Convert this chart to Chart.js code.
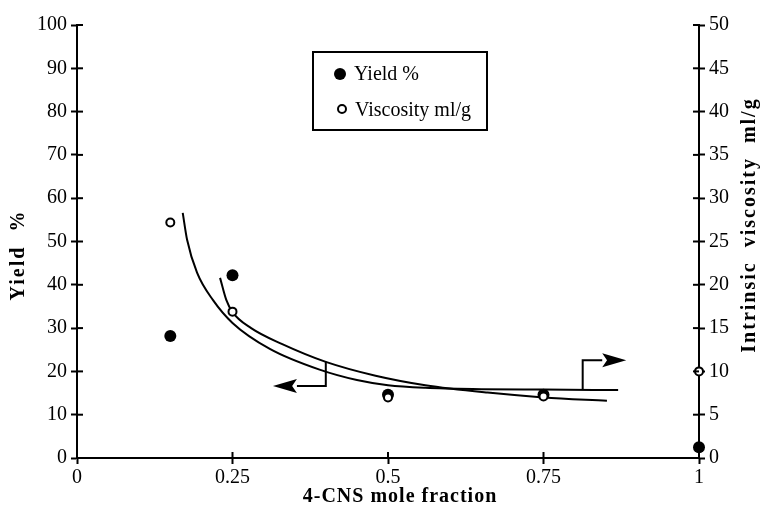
<!DOCTYPE html>
<html>
<head>
<meta charset="utf-8">
<script src="https://cdn.jsdelivr.net/npm/chart.js@4"></script>
<style>
html,body{margin:0;padding:0;background:#fff;}
#wrap{width:767px;height:512px;}
</style>
</head>
<body>
<div id="wrap"><canvas id="grafico" width="767" height="512"></canvas></div>
<script>
// measured points
const moleFraction = [0.15, 0.25, 0.5, 0.75, 1];
const yieldPct = [28.2, 42.2, 14.6, 14.6, 2.5];
const viscosity = [27.2, 16.9, 7.0, 7.1, 10];

// fitted curves
const yieldFitX = [0.23, 0.24, 0.25, 0.28, 0.33, 0.4, 0.48, 0.56, 0.66, 0.75, 0.852];
const yieldFitY = [41.6, 36.5, 33.7, 30.0, 26.3, 22.2, 19.0, 16.8, 15.1, 14.0, 13.2];
const viscFitX = [0.17, 0.177, 0.193, 0.219, 0.25, 0.31, 0.39, 0.45, 0.5, 0.56, 0.65, 0.75, 0.87];
const viscFitY = [28.3, 25.2, 21.4, 18.2, 15.6, 12.6, 10.2, 9.0, 8.4, 8.1, 7.95, 7.9, 7.85];

// arrows telling which axis each curve uses
const yieldArrow = [[0.4, 22.2], [0.4, 16.6], [0.315, 16.6]];
const viscArrow = [[0.813, 7.88], [0.813, 11.3], [0.883, 11.3]];

const xTicks = ["0", "0.25", "0.5", "0.75", "1"];
const legendLabels = ["Yield %", "Viscosity ml/g"];

const pts = (xs, ys) => xs.map((x, i) => ({x: x, y: ys[i]}));

Chart.defaults.font.family = "'Liberation Serif', 'DejaVu Serif', serif";
Chart.defaults.color = "#000";

const SERIF = "'Liberation Serif', serif";

const extras = {
  id: "extras",
  afterDatasetsDraw(chart) {
    const ctx = chart.ctx;
    const sx = chart.scales.x, sy = chart.scales.y, sy1 = chart.scales.y1;
    ctx.save();
    ctx.strokeStyle = "#000";
    ctx.fillStyle = "#000";
    ctx.lineWidth = 2;

    // inner halves of the tick marks
    sy.ticks.forEach(t => {
      const p = sy.getPixelForValue(t.value);
      ctx.beginPath(); ctx.moveTo(sx.left, p); ctx.lineTo(sx.left + 6, p); ctx.stroke();
    });
    sy1.ticks.forEach(t => {
      const p = sy1.getPixelForValue(t.value);
      ctx.beginPath(); ctx.moveTo(sx.right - 6, p); ctx.lineTo(sx.right, p); ctx.stroke();
    });
    sx.ticks.forEach(t => {
      const p = sx.getPixelForValue(t.value);
      ctx.beginPath(); ctx.moveTo(p, sy.bottom - 6); ctx.lineTo(p, sy.bottom); ctx.stroke();
    });

    // arrows
    function arrow(path, scale) {
      const q = path.map(a => [sx.getPixelForValue(a[0]), scale.getPixelForValue(a[1])]);
      const tip = q[q.length - 1], prev = q[q.length - 2];
      const dir = Math.sign(tip[0] - prev[0]);
      const headLen = 24, half = 7;
      ctx.beginPath();
      ctx.moveTo(q[0][0], q[0][1]);
      for (let i = 1; i < q.length - 1; i++) ctx.lineTo(q[i][0], q[i][1]);
      ctx.lineTo(tip[0] - dir * headLen, tip[1]);
      ctx.stroke();
      ctx.beginPath();
      ctx.moveTo(tip[0], tip[1]);
      ctx.lineTo(tip[0] - dir * headLen, tip[1] - half);
      ctx.lineTo(tip[0] - dir * headLen * 0.8, tip[1]);
      ctx.lineTo(tip[0] - dir * headLen, tip[1] + half);
      ctx.closePath();
      ctx.fill();
    }
    arrow(yieldArrow, sy);
    arrow(viscArrow, sy1);

    // legend box
    const bx = 313, by = 52, bw = 174, bh = 78;
    ctx.lineWidth = 2;
    ctx.strokeRect(bx, by, bw, bh);
    ctx.font = "20px " + SERIF;
    ctx.textBaseline = "alphabetic";
    ctx.textAlign = "left";
    ctx.beginPath(); ctx.arc(340, 74, 6, 0, Math.PI * 2); ctx.fill();
    ctx.fillText(legendLabels[0], 354, 80);
    ctx.beginPath(); ctx.arc(342, 109, 4, 0, Math.PI * 2); ctx.stroke();
    ctx.fillText(legendLabels[1], 355, 116);

    // axis titles
    ctx.font = "bold 20px " + SERIF;
    ctx.textAlign = "center";
    ctx.textBaseline = "middle";
    ctx.letterSpacing = "1px";
    ctx.fillText("4-CNS mole fraction", 400, 497);

    ctx.letterSpacing = "2px";
    ctx.save();
    ctx.translate(19, 255);
    ctx.rotate(-Math.PI / 2);
    ctx.fillText("Yield  %", 0, 0);
    ctx.restore();

    ctx.save();
    ctx.translate(750, 225);
    ctx.rotate(-Math.PI / 2);
    ctx.fillText("Intrinsic  viscosity  ml/g", 0, 0);
    ctx.restore();

    ctx.restore();
  }
};

const ctx = document.getElementById("grafico");

new Chart(ctx, {
  type: "scatter",
  data: {
    datasets: [
      {
        label: legendLabels[1],
        data: pts(moleFraction, viscosity),
        yAxisID: "y1",
        pointRadius: 4,
        pointBorderWidth: 2,
        pointBackgroundColor: "#fff",
        pointBorderColor: "#000",
        clip: false,
        order: 0
      },
      {
        label: legendLabels[0],
        data: pts(moleFraction, yieldPct),
        yAxisID: "y",
        pointRadius: 6,
        pointBorderWidth: 0,
        pointBackgroundColor: "#000",
        clip: false,
        order: 1
      },
      {
        label: "yield fit",
        data: pts(yieldFitX, yieldFitY),
        yAxisID: "y",
        showLine: true,
        pointRadius: 0,
        borderColor: "#000",
        borderWidth: 2,
        cubicInterpolationMode: "monotone",
        order: 2
      },
      {
        label: "viscosity fit",
        data: pts(viscFitX, viscFitY),
        yAxisID: "y1",
        showLine: true,
        pointRadius: 0,
        borderColor: "#000",
        borderWidth: 2,
        cubicInterpolationMode: "monotone",
        order: 2
      }
    ]
  },
  options: {
    responsive: false,
    animation: false,
    layout: {padding: {top: 25, left: 0, right: 0, bottom: 0}},
    plugins: {legend: {display: false}, tooltip: {enabled: false}},
    scales: {
      x: {
        type: "linear",
        min: 0, max: 1,
        afterFit: s => { s.height = 54; },
        afterBuildTicks: s => { s.ticks = xTicks.map(v => ({value: parseFloat(v)})); },
        ticks: {
          font: {size: 20},
          padding: 2,
          maxRotation: 0,
          callback: (v, i) => xTicks[i]
        },
        grid: {drawOnChartArea: false, tickLength: 6, tickWidth: 2, color: "#000"},
        border: {color: "#000", width: 2}
      },
      y: {
        position: "left",
        min: 0, max: 100,
        afterFit: s => { s.width = 77; },
        ticks: {stepSize: 10, font: {size: 20}, padding: 4},
        grid: {drawOnChartArea: false, tickLength: 6, tickWidth: 2, color: "#000"},
        border: {color: "#000", width: 2}
      },
      y1: {
        position: "right",
        min: 0, max: 50,
        afterFit: s => { s.width = 68; },
        ticks: {stepSize: 5, font: {size: 20}, padding: 4},
        grid: {drawOnChartArea: false, tickLength: 6, tickWidth: 2, color: "#000"},
        border: {color: "#000", width: 2}
      }
    }
  },
  plugins: [extras]
});
</script>
</body>
</html>
